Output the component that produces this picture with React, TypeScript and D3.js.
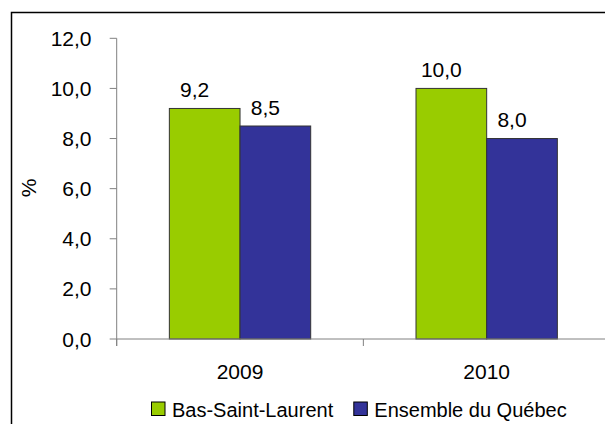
import React from 'react'
import * as d3 from 'd3'

const years = ['2009', '2010']
const regions = ['Bas-Saint-Laurent', 'Ensemble du Québec']
const bslValues = [9.2, 10.0]
const quebecValues = [8.5, 8.0]
const yTicks = [0, 2, 4, 6, 8, 10, 12]
const colors = ['#99CC00', '#333399']

const W = 605
const H = 424
const font = 'Liberation Sans, Arial, sans-serif'
const fmt = (v: number) => v.toFixed(1).replace('.', ',')

export default function App() {
  const left = 116.7
  const right = 610
  const top = 38.3
  const bottom = 339

  const x = d3.scaleBand<string>().domain(years).range([left, right])
  // bars fill a bit over half of each category slot
  const xs = d3.scaleBand<string>().domain(regions).range([0, x.bandwidth()]).paddingInner(0).paddingOuter(0.745)
  const y = d3.scaleLinear().domain([0, 12]).range([bottom, top])

  const series = [bslValues, quebecValues]
  const fs = 21

  return (
    <svg width={W} height={H} style={{ position: 'absolute', left: 0, top: 0, background: '#fff' }} fontFamily={font}>
      <rect x={0} y={0} width={W} height={H} fill="#fff" />
      <rect x={11.5} y={12.5} width={W + 20} height={H + 20} fill="none" stroke="#000" strokeWidth={1.5} />

      {/* y axis */}
      <line x1={left} x2={left} y1={top} y2={bottom + 7} stroke="#808080" strokeWidth={1} />
      {yTicks.map(t => (
        <g key={t}>
          <line x1={left - 7} x2={left} y1={y(t)} y2={y(t)} stroke="#808080" />
          <text x={91.5} y={y(t) + 7.5} fontSize={fs} textAnchor="end" fill="#000">{fmt(t)}</text>
        </g>
      ))}
      <text transform={`translate(36,188) rotate(-90)`} fontSize={fs} textAnchor="middle" fill="#000">%</text>

      {/* bars */}
      {years.map((yr, i) => (
        <g key={yr}>
          {regions.map((r, j) => {
            const v = series[j][i]
            const bx = (x(yr) as number) + (xs(r) as number)
            return (
              <g key={r}>
                <rect x={bx} y={y(v)} width={xs.bandwidth()} height={bottom - y(v)} fill={colors[j]} stroke="#333" strokeWidth={1} />
                {/* labels sit a little left of the bar centre, as in the original */}
                <text x={bx + xs.bandwidth() / 2 - 10} y={y(v) - 11.5} fontSize={fs} textAnchor="middle" fill="#000">{fmt(v)}</text>
              </g>
            )
          })}
          <text x={(x(yr) as number) + x.bandwidth() / 2} y={378.5} fontSize={fs} textAnchor="middle" fill="#000">{yr}</text>
        </g>
      ))}

      {/* x axis */}
      <line x1={left} x2={right} y1={bottom} y2={bottom} stroke="#808080" />
      {[...years.map(yr => x(yr) as number), right].map((t, i) => (
        <line key={i} x1={t} x2={t} y1={bottom} y2={bottom + 7} stroke="#808080" />
      ))}

      {/* legend */}
      {regions.map((r, j) => {
        const lx = j === 0 ? 151 : 353.3
        return (
          <g key={r}>
            <rect x={lx + 0.5} y={402} width={13.5} height={13.5} fill={colors[j]} stroke="#000" strokeWidth={1} />
            <text x={lx + 21} y={416.5} fontSize={20} fill="#000">{r}</text>
          </g>
        )
      })}
    </svg>
  )
}
